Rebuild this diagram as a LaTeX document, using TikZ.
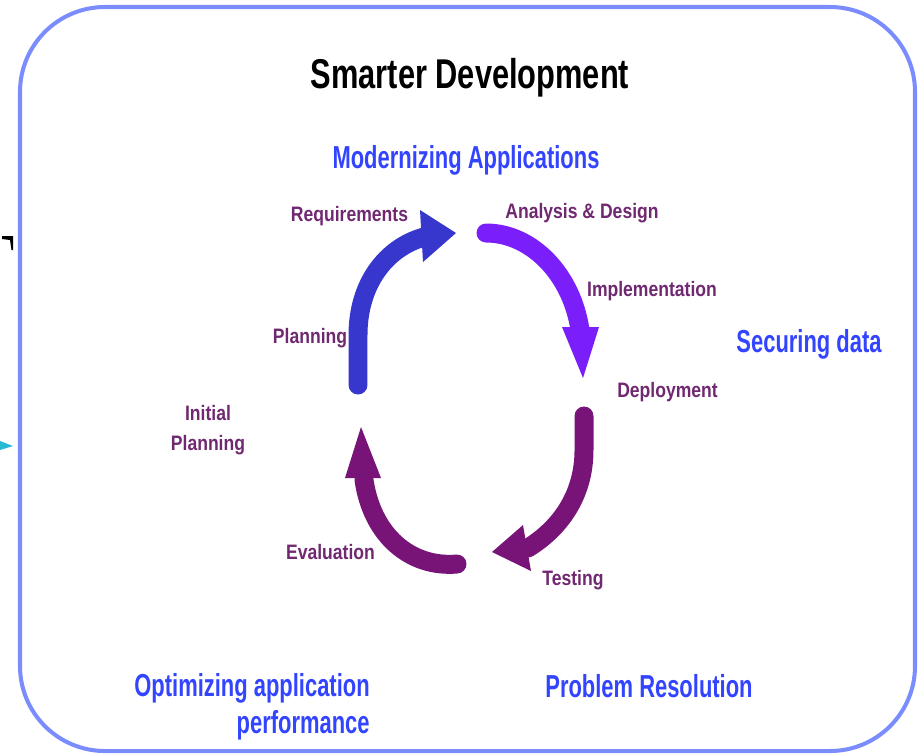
\documentclass[tikz,border=0pt]{standalone}
\usepackage{fontspec}
\setmainfont{Liberation Sans}
\newfontfamily\titlefont[FakeStretch=0.74]{Liberation Sans}
\newfontfamily\bluefont[FakeStretch=0.69]{Liberation Sans}
\newfontfamily\stepfont[FakeStretch=0.84]{Liberation Sans}
\definecolor{framecol}{RGB}{123,140,255}
\definecolor{labelblue}{RGB}{51,68,255}
\definecolor{steppurple}{RGB}{112,40,112}
\definecolor{arrblue}{RGB}{55,55,205}
\definecolor{arrviolet}{RGB}{122,30,250}
\definecolor{arrpurple}{RGB}{120,20,120}
\definecolor{cyanmark}{RGB}{40,185,215}
\begin{document}
\begin{tikzpicture}[x=0.02cm,y=-0.02cm,
  frame/.style={draw=framecol,line width=2.3pt,rounded corners=1.7cm},
  titletext/.style={font=\titlefont\bfseries\fontsize{23.7}{28}\selectfont,text=black,inner sep=0pt,anchor=base},
  areatext/.style={font=\bluefont\bfseries\fontsize{18.1}{20}\selectfont,text=labelblue,inner sep=0pt,anchor=base},
  steptext/.style={font=\stepfont\bfseries\fontsize{11.9}{17}\selectfont,text=steppurple,inner sep=0pt,anchor=base},
  shaft/.style={line width=10.8pt,line cap=round},
]
\useasboundingbox (0,0) rectangle (918,755);
\draw[frame] (20,7) rectangle (915,751);

% small marks at the left edge
\fill[black] (2,236) -- (13,236) -- (13,250) -- (11.5,250) -- (10,240) -- (2,239) -- cycle;
\fill[cyanmark] (0,441) -- (13,446) -- (0,450) -- cycle;

% texts
\node[titletext] (title) at (470,88) {Smarter Development};
\node[areatext] (modern) at (466,168) {Modernizing Applications};
\node[areatext] (secure) at (809,352) {Securing data};
\node[areatext] (problem) at (649,697) {Problem Resolution};
\node[areatext,anchor=base east,align=right] (optim) at (370,733) {Optimizing application\\[1pt]performance};

\node[steptext] (req) at (349.5,221) {Requirements};
\node[steptext] (ad) at (582,218) {Analysis \& Design};
\node[steptext] (impl) at (652,296) {Implementation};
\node[steptext] (depl) at (667.5,397) {Deployment};
\node[steptext] (plan) at (310,343) {Planning};
\node[steptext,align=center] (init) at (208,450) {Initial\\Planning};
\node[steptext] (eval) at (330.5,559) {Evaluation};
\node[steptext] (test) at (573,585) {Testing};

% cycle arrows
\coordinate (a1s) at (358,385);
\coordinate (a1e) at (424,237);
\draw[shaft,arrblue] (a1s) -- (358,335) .. controls (358,285) and (385,248) .. (a1e);
\fill[arrblue] (420,210) -- (456,233) -- (423,262) -- cycle;

\coordinate (a2s) at (486,233);
\coordinate (a2e) at (580,330);
\draw[shaft,arrviolet] (a2s) .. controls (532,233) and (572,275) .. (a2e);
\fill[arrviolet] (562,327) -- (599,327) -- (583,378) -- cycle;

\coordinate (a3s) at (584,416);
\coordinate (a3e) at (528,548);
\draw[shaft,arrpurple] (a3s) -- (584,450) .. controls (584,490) and (565,525) .. (a3e);
\fill[arrpurple] (523,525) -- (531,571) -- (492,552) -- cycle;

\coordinate (a4s) at (457,564);
\coordinate (a4e) at (364,480);
\draw[shaft,arrpurple] (a4s) .. controls (410,568) and (372,535) .. (a4e);
\fill[arrpurple] (345,478) -- (381,478) -- (361,427) -- cycle;
\end{tikzpicture}
\end{document}
